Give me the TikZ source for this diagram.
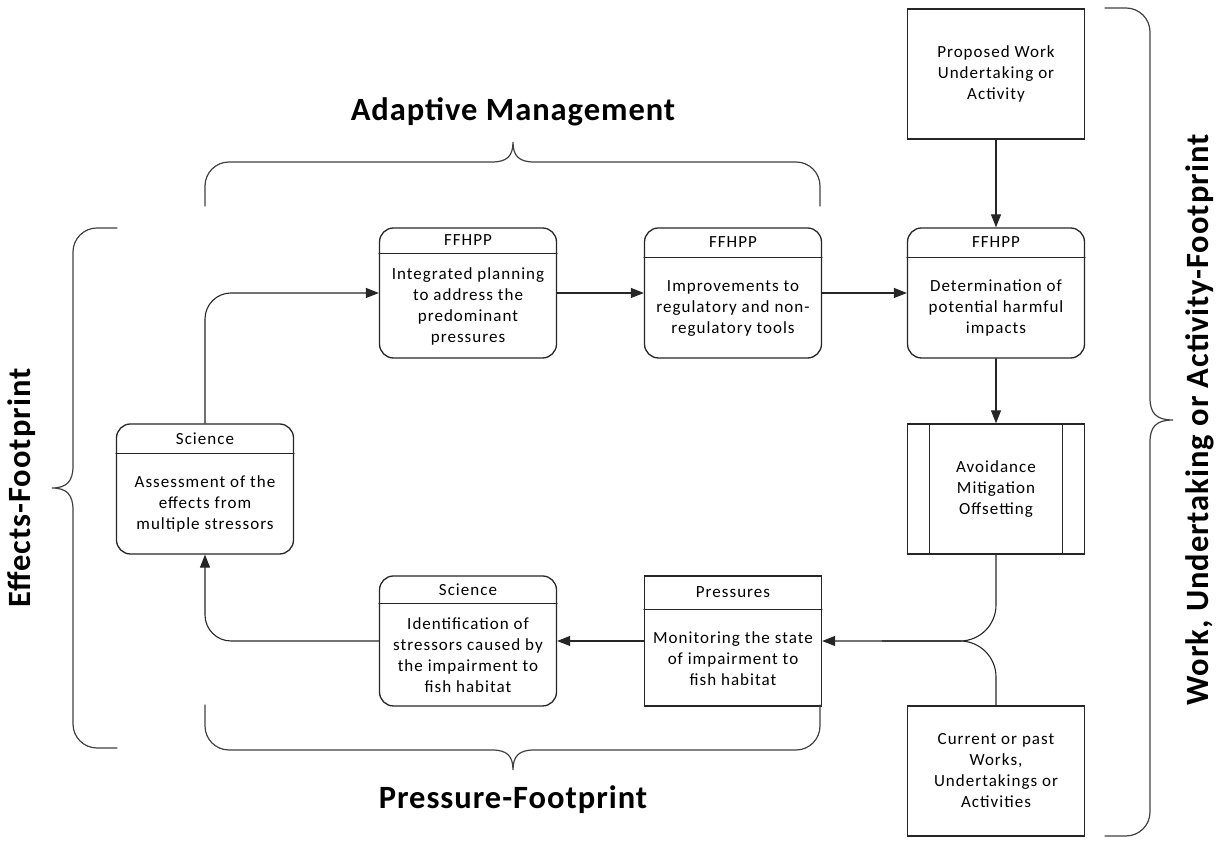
\documentclass[tikz,border=0pt]{standalone}
\usepackage{fontspec}
\setmainfont{Carlito}
\usepackage{tikz}
\usetikzlibrary{positioning,calc,arrows.meta}

\begin{document}
\begin{tikzpicture}[x=1pt,y=1pt,
    line cap=round,
    box/.style={draw=black!85,line width=1.3pt,minimum width=177pt,minimum height=130pt,
      align=center,inner sep=0pt,font=\fontsize{17}{21}\selectfont\addfontfeatures{LetterSpace=6}},
    rbox/.style={box,rounded corners=14pt},
    headtxt/.style={minimum height=30pt,inner sep=0pt,font=\fontsize{17}{20}\selectfont\addfontfeatures{LetterSpace=6}},
    bodytxt/.style={align=center,inner sep=0pt,font=\fontsize{17}{21}\selectfont\addfontfeatures{LetterSpace=6}},
    conn/.style={draw=black!85,line width=1.1pt},
    arr/.style={conn,-{Triangle[length=13pt,width=10pt]}},
    brace/.style={draw=black!75,line width=1.2pt},
    title/.style={font=\fontsize{32.5}{36}\selectfont\bfseries\addfontfeatures{LetterSpace=3}}]
    \useasboundingbox (0,0) rectangle (1226,842);

    % right column
    \node[box] (prop) at (996,768) {Proposed Work\\Undertaking or\\Activity};
    \node[rbox] (det) at (996,549) {};
    \node[headtxt,below=0pt of det.north] (detT) {FFHPP};
    \draw[conn] (det.west |- detT.south) -- (det.east |- detT.south);
    \node[bodytxt] (detB) at ($(detT.south)!.5!(det.south)$) {Determination of\\potential harmful\\impacts};
    \node[box] (avoid) at (996,353) {Avoidance\\Mitigation\\Offsetting};
    \draw[conn] ([xshift=23pt]avoid.north west) -- ([xshift=23pt]avoid.south west);
    \draw[conn] ([xshift=-23pt]avoid.north east) -- ([xshift=-23pt]avoid.south east);
    \node[box] (cur) at (996,71) {Current or past\\Works,\\Undertakings or\\Activities};

    % top row
    \node[rbox] (plan) at (468,549) {};
    \node[headtxt,minimum height=26pt,below=0pt of plan.north] (planT) {FFHPP};
    \draw[conn] (plan.west |- planT.south) -- (plan.east |- planT.south);
    \node[bodytxt] (planB) at ($(planT.south)!.5!(plan.south)$) {Integrated planning\\to address the\\predominant\\pressures};
    \node[rbox] (tools) at (733,549) {};
    \node[headtxt,below=0pt of tools.north] (toolsT) {FFHPP};
    \draw[conn] (tools.west |- toolsT.south) -- (tools.east |- toolsT.south);
    \node[bodytxt] (toolsB) at ($(toolsT.south)!.5!(tools.south)$) {Improvements to\\regulatory and non-\\regulatory tools};

    % left and bottom
    \node[rbox] (assess) at (205,353) {};
    \node[headtxt,below=0pt of assess.north] (assessT) {Science};
    \draw[conn] (assess.west |- assessT.south) -- (assess.east |- assessT.south);
    \node[bodytxt] (assessB) at ($(assessT.south)!.5!(assess.south)$) {Assessment of the\\effects from\\multiple stressors};
    \node[rbox] (ident) at (468,201) {};
    \node[headtxt,minimum height=28pt,below=0pt of ident.north] (identT) {Science};
    \draw[conn] (ident.west |- identT.south) -- (ident.east |- identT.south);
    \node[bodytxt] (identB) at ($(identT.south)!.5!(ident.south)$) {Identification of\\stressors caused by\\the impairment to\\fish habitat};
    \node[box] (press) at (733,201) {};
    \node[headtxt,minimum height=34pt,below=0pt of press.north] (pressT) {Pressures};
    \draw[conn] (press.west |- pressT.south) -- (press.east |- pressT.south);
    \node[bodytxt] (pressB) at ($(pressT.south)!.5!(press.south)$) {Monitoring the state\\of impairment to\\fish habitat};

    % connectors
    \draw[arr,rounded corners=26pt] (assess.north) |- (plan.west);
    \draw[arr] (plan.east) -- (tools.west);
    \draw[arr] (tools.east) -- (det.west);
    \draw[arr] (prop.south) -- (det.north);
    \draw[arr] (det.south) -- (avoid.north);
    \draw[arr,rounded corners=36pt] (avoid.south) |- (press.east);
    \draw[conn,rounded corners=36pt] (cur.north) |- ($(press.east)+(60,0)$);
    \draw[arr] (press.west) -- (ident.east);
    \draw[arr,rounded corners=26pt] (ident.west) -| (assess.south);

    % braces
    \draw[brace] (205,636) -- (205,656) arc (180:90:24) -- (492,680)
      .. controls (507,680) and (513,686) .. (513,700)
      .. controls (513,686) and (519,680) .. (534,680) -- (796,680) arc (90:0:24) -- (820,636);
    \draw[brace] (205,137) -- (205,116) arc (180:270:24) -- (492,92)
      .. controls (507,92) and (513,86) .. (513,72)
      .. controls (513,86) and (519,92) .. (534,92) -- (796,92) arc (270:360:24) -- (820,137);
    \draw[brace] (117,614) -- (97,614) arc (90:180:24) -- (73,376)
      .. controls (73,361) and (67,354) .. (52,354)
      .. controls (67,354) and (73,347) .. (73,332) -- (73,118) arc (180:270:24) -- (117,94);
    \draw[brace] (1105,834) -- (1126,834) arc (90:0:24) -- (1150,444)
      .. controls (1150,429) and (1156,422) .. (1173,422)
      .. controls (1156,422) and (1150,415) .. (1150,400) -- (1150,30) arc (0:-90:24) -- (1105,6);

    % titles
    \node[title] (adapt) at (513,730) {Adaptive Management};
    \node[title] (pfoot) at (513,42) {Pressure-Footprint};
    \node[title,rotate=90] (efoot) at (22,354) {Effects-Footprint};
    \node[title,rotate=90] (wfoot) at (1200,422) {Work, Undertaking or Activity-Footprint};
\end{tikzpicture}
\end{document}
